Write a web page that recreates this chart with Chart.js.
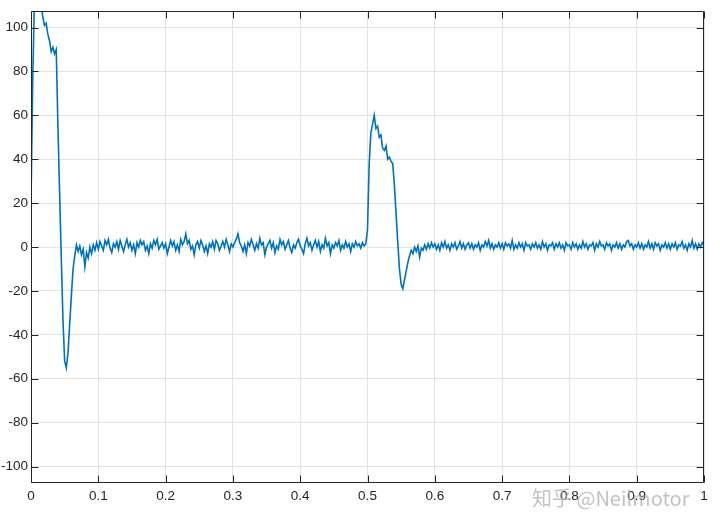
<!DOCTYPE html>
<html>
<head>
  <meta charset="UTF-8" />
  <title>Current response</title>
  <script src="https://cdn.jsdelivr.net/npm/chart.js"></script>
  <style>
    body { margin: 0; background: #fff; }
    canvas { display: block; }
  </style>
</head>
<body>
  <canvas id="chart" width="720" height="530"></canvas>

  <script>
    // sample period of the trace (s)
    const dt = 0.0025;

    const current = [
      20, 75, 112, 125, 128, 120, 110, 105, 101, 102, 97, 94, 89, 91, 88, 90, 55, 25, -5, -33,
      -52, -55, -48, -35, -22, -10, -4, 1, -2, 0.5, -3.5, -1, -9, -2.5, -5, 0, -3, 1, -1.5, 2,
      -1, 2.5, 0.5, -1.5, 3, 1, 3.5, -0.5, -2.5, 1.5, 0, 2.5, -1, 3, 0.5, -2, 1, 3.5, 0, 2,
      -1.5, 1, -3, 2, 0, 3, 1, 2.5, -1.5, 0.5, -3, 1.5, -0.5, 3, 1, 3.5, -1, 0.5, 2, -0.5,
      1.5, -3, 0, 3, 0.5, 2.5, -1.5, 1, -2, 3.5, 1, 2.5, 6, 1.5, 3, -1, 0.5, -3.5, 1, 2.5,
      -0.5, 3, 1, -2, 0.5, -3, 1.5, 0, 2.5, -1, 3, 1.5, -1.5, 0.5, 2.5, 0, 3.5, 1, -2, 1.5,
      0, 2, 3.5, 6, 2, 0.5, -2, 1, -3, 2, 0.5, 3.5, 1, -1.5, 1.5, -0.5, 4, 1, 2, -3.5,
      0, 1.5, 3, -0.5, 2, -2.5, 0.5, -1, 3.5, 1, 2.5, -1, 1, 3, -0.5, -2.5, 1, -0.5, 2, 3.5,
      0.5, -1, -3, 1.5, 4, 0.5, 2, -1.5, 1, 3, 0, 2.5, -2, 1, -0.5, 4, 0.5, 2, -3, 1,
      -0.5, 2, 0.5, 3, -1.5, 1, -0.5, 2.5, 0, 1.5, -2, 1.5, 0, 2.5, 0.5, 1.5, -0.5, 2, 0.5, 1.5,
      8, 38, 52, 56, 60, 54, 55, 50, 51, 45, 44, 46, 40, 41, 39, 38, 28, 15, 2, -10,
      -17, -19, -15, -11, -7, -4, -1.5, -3, 0, -2, 0.5, -4.5, -0.5, -1.5, 1, -1, 1.5, -0.5, 2, 0,
      1.5, -1, 1, -1.5, 2, 0, 2.5, -0.5, 1, -1.5, 1.5, 0, 2, -1, 0.5, 2.5, -0.5, 1.5, -1, 1,
      2, -0.5, 1.5, -1, 1, 0, 2, -1.5, 1, 0, 2.5, 0.5, 3, -0.5, 1.5, -1, 1, 0, 2, -0.5,
      1.5, -1, 2, 0.5, 1.5, -0.5, 3, -1, 1, -0.5, 2, 0, 1.5, -1.5, 2, 0.5, 1, -1, 1.5, 0,
      2, -0.5, 1, -1, 2.5, 0, 1.5, -1.5, 1, 0.5, 2, -1, 1.5, 0, 2, -0.5, 1, -1.5, 2, 0.5,
      1, -1, 2, 0, 1.5, -1, 1, -0.5, 2.5, 0, 1.5, -1, 1, 0.5, 2, -1.5, 1.5, 0, 2.5, 0.5,
      1, -1, 2, 0.5, 1.5, -1.5, 1, 0, 2, -0.5, 1.5, -1, 1, 0, 2.5, 3, 0.5, 1.5, -1, 1,
      0, 2, -0.5, 1.5, -1, 1, 0, 2.5, -0.5, 1.5, -1, 2, 0.5, 1.5, -1.5, 1, 0, 2, -0.5, 1.5,
      -1, 1.5, 0, 2, -1, 1, 0.5, 2.5, -0.5, 1, -1.5, 1.5, 0, 3, -0.5, 1.5, -1, 1.5, 0, 2,
      1
    ];

    const xTicks = [0, 0.1, 0.2, 0.3, 0.4, 0.5, 0.6, 0.7, 0.8, 0.9, 1];
    const xTickLabels = ['0', '0.1', '0.2', '0.3', '0.4', '0.5', '0.6', '0.7', '0.8', '0.9', '1'];
    const yTicks = [-100, -80, -60, -40, -20, 0, 20, 40, 60, 80, 100];
    const yTickLabels = ['-100', '-80', '-60', '-40', '-20', '0', '20', '40', '60', '80', '100'];

    const points = current.map((v, i) => ({ x: +(i * dt).toFixed(4), y: v }));

    const tickFont = { family: "'Liberation Sans', Arial, sans-serif", size: 13.5 };

    // box round the plot plus inward tick marks on all four sides
    const framePlugin = {
      id: 'frame',
      afterDraw(chart) {
        const { ctx, chartArea: { left, right, top, bottom }, scales: { x, y } } = chart;
        const L = Math.round(left) + 0.5, R = Math.round(right) - 0.5;
        const T = Math.round(top) + 0.5, B = Math.round(bottom) - 0.5;
        const len = 7;
        ctx.save();
        ctx.strokeStyle = '#262626';
        ctx.lineWidth = 1;
        ctx.beginPath();
        ctx.rect(L, T, R - L, B - T);
        xTicks.forEach(v => {
          const px = Math.round(x.getPixelForValue(v)) + 0.5;
          ctx.moveTo(px, B); ctx.lineTo(px, B - len);
          ctx.moveTo(px, T); ctx.lineTo(px, T + len);
        });
        yTicks.forEach(v => {
          const py = Math.round(y.getPixelForValue(v)) + 0.5;
          ctx.moveTo(L, py); ctx.lineTo(L + len, py);
          ctx.moveTo(R, py); ctx.lineTo(R - len, py);
        });
        ctx.stroke();

        // watermark
        ctx.font = "20px 'Noto Sans CJK SC', sans-serif";
        ctx.fillStyle = 'rgba(175,175,175,0.75)';
        ctx.textBaseline = 'alphabetic';
        ctx.textAlign = 'left';
        ctx.fillText('知乎 @Neilmotor', 532, 506);
        ctx.restore();
      }
    };

    new Chart(document.getElementById('chart').getContext('2d'), {
      type: 'line',
      data: {
        datasets: [{
          data: points,
          borderColor: '#0072BD',
          borderWidth: 1.6,
          pointRadius: 0,
          tension: 0,
          fill: false
        }]
      },
      options: {
        responsive: false,
        animation: false,
        layout: { padding: { top: 10, right: 16, left: 0, bottom: 0 } },
        plugins: {
          legend: { display: false },
          tooltip: { enabled: false }
        },
        scales: {
          x: {
            type: 'linear',
            min: 0,
            max: 1,
            afterBuildTicks: s => { s.ticks = xTicks.map(v => ({ value: v })); },
            afterFit: s => { s.height = 47; },
            border: { display: false },
            grid: { color: '#e3e3e3', drawTicks: false },
            ticks: {
              font: tickFont,
              color: '#262626',
              padding: 5,
              maxRotation: 0,
              callback: (v) => xTickLabels[xTicks.indexOf(+v.toFixed(1))] ?? ''
            }
          },
          y: {
            min: -107.5,
            max: 107.5,
            afterBuildTicks: s => { s.ticks = yTicks.map(v => ({ value: v })); },
            afterFit: s => { s.width = 31; },
            border: { display: false },
            grid: { color: '#e3e3e3', drawTicks: false },
            ticks: {
              font: tickFont,
              color: '#262626',
              padding: 3,
              callback: (v) => yTickLabels[yTicks.indexOf(v)] ?? ''
            }
          }
        }
      },
      plugins: [framePlugin]
    });
  </script>
</body>
</html>
